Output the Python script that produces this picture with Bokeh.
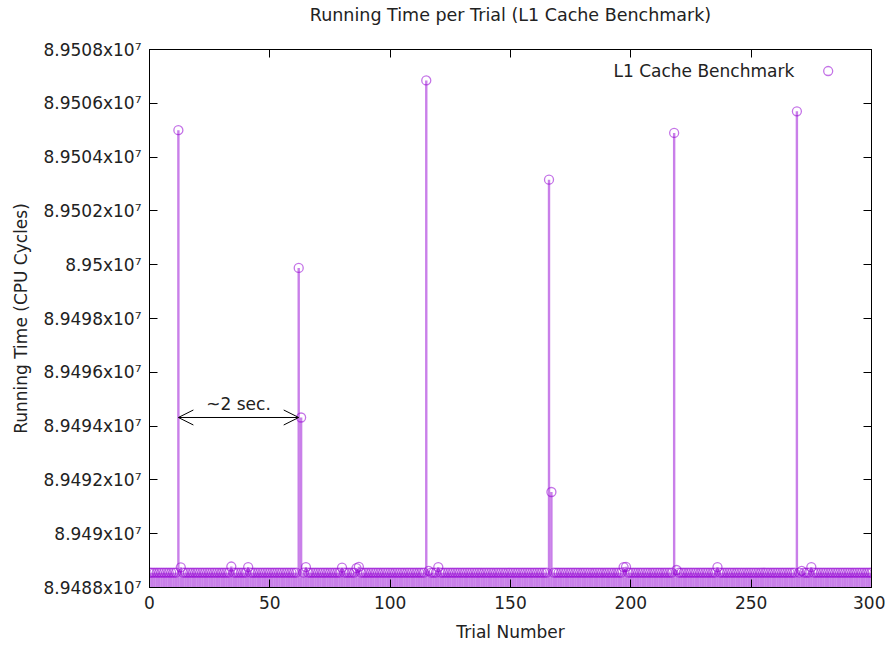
from bokeh.plotting import figure
from bokeh.models import (Range1d, FixedTicker, CustomJSTickFormatter, LinearAxis,
                          Arrow, OpenHead, Label, ColumnDataSource)
from bokeh.embed import file_html
from bokeh.resources import INLINE

trials = list(range(301))
running_time = [
    89488550, 89488550, 89488550, 89488550, 89488550, 89488550, 89488550, 89488550, 89488550, 89488550,
    89488550, 89488550, 89505000, 89488750, 89488550, 89488550, 89488550, 89488550, 89488550, 89488550,
    89488550, 89488550, 89488550, 89488550, 89488550, 89488550, 89488550, 89488550, 89488550, 89488550,
    89488550, 89488550, 89488550, 89488550, 89488780, 89488550, 89488550, 89488550, 89488550, 89488550,
    89488550, 89488760, 89488550, 89488550, 89488550, 89488550, 89488550, 89488550, 89488550, 89488550,
    89488550, 89488550, 89488550, 89488550, 89488550, 89488550, 89488550, 89488550, 89488550, 89488550,
    89488550, 89488550, 89499880, 89494320, 89488550, 89488760, 89488550, 89488550, 89488550, 89488550,
    89488550, 89488550, 89488550, 89488550, 89488550, 89488550, 89488550, 89488550, 89488550, 89488550,
    89488740, 89488550, 89488550, 89488550, 89488550, 89488550, 89488720, 89488770, 89488550, 89488550,
    89488550, 89488550, 89488550, 89488550, 89488550, 89488550, 89488550, 89488550, 89488550, 89488550,
    89488550, 89488550, 89488550, 89488550, 89488550, 89488550, 89488550, 89488550, 89488550, 89488550,
    89488550, 89488550, 89488550, 89488550, 89488550, 89506850, 89488620, 89488550, 89488550, 89488550,
    89488760, 89488550, 89488550, 89488550, 89488550, 89488550, 89488550, 89488550, 89488550, 89488550,
    89488550, 89488550, 89488550, 89488550, 89488550, 89488550, 89488550, 89488550, 89488550, 89488550,
    89488550, 89488550, 89488550, 89488550, 89488550, 89488550, 89488550, 89488550, 89488550, 89488550,
    89488550, 89488550, 89488550, 89488550, 89488550, 89488550, 89488550, 89488550, 89488550, 89488550,
    89488550, 89488550, 89488550, 89488550, 89488550, 89488550, 89503160, 89491550, 89488550, 89488550,
    89488550, 89488550, 89488550, 89488550, 89488550, 89488550, 89488550, 89488550, 89488550, 89488550,
    89488550, 89488550, 89488550, 89488550, 89488550, 89488550, 89488550, 89488550, 89488550, 89488550,
    89488550, 89488550, 89488550, 89488550, 89488550, 89488550, 89488550, 89488760, 89488770, 89488550,
    89488550, 89488550, 89488550, 89488550, 89488550, 89488550, 89488550, 89488550, 89488550, 89488550,
    89488550, 89488550, 89488550, 89488550, 89488550, 89488550, 89488550, 89488550, 89504900, 89488650,
    89488550, 89488550, 89488550, 89488550, 89488550, 89488550, 89488550, 89488550, 89488550, 89488550,
    89488550, 89488550, 89488550, 89488550, 89488550, 89488550, 89488760, 89488550, 89488550, 89488550,
    89488550, 89488550, 89488550, 89488550, 89488550, 89488550, 89488550, 89488550, 89488550, 89488550,
    89488550, 89488550, 89488550, 89488550, 89488550, 89488550, 89488550, 89488550, 89488550, 89488550,
    89488550, 89488550, 89488550, 89488550, 89488550, 89488550, 89488550, 89488550, 89488550, 89505700,
    89488550, 89488620, 89488550, 89488550, 89488550, 89488760, 89488550, 89488550, 89488550, 89488550,
    89488550, 89488550, 89488550, 89488550, 89488550, 89488550, 89488550, 89488550, 89488550, 89488550,
    89488550, 89488550, 89488550, 89488550, 89488550, 89488550, 89488550, 89488550, 89488550, 89488550,
    89488550,
]
x_ticks = [0, 50, 100, 150, 200, 250, 300]
y_ticks = [89488000, 89490000, 89492000, 89494000, 89496000, 89498000,
           89500000, 89502000, 89504000, 89506000, 89508000]
series_name = "L1 Cache Benchmark"
title_text = "Running Time per Trial (L1 Cache Benchmark)"
arrow_from, arrow_to, arrow_ref = 12, 62, 63
arrow_text = "~2 sec."

FONT = "DejaVu Sans"
FS = "17px"
TXT = "#222222"
COLOR = "#9400d3"

x_lo, x_hi = 0, 300
y_lo, y_hi = y_ticks[0], y_ticks[-1]

p = figure(width=885, height=644, x_range=Range1d(x_lo, x_hi), y_range=Range1d(y_lo, y_hi),
           output_backend="svg", toolbar_location=None,
           min_border_left=149, min_border_right=14, min_border_top=49, min_border_bottom=54)
p.grid.visible = False
p.outline_line_color = "black"
p.outline_line_alpha = 1.0
p.outline_line_width = 1
p.background_fill_color = "white"
p.border_fill_color = "white"

src = ColumnDataSource(dict(trial=trials, time=running_time, base=[y_lo] * len(trials)))
p.segment(x0="trial", y0="base", x1="trial", y1="time", source=src,
          line_color=COLOR, line_alpha=0.5, line_width=2.4)
p.scatter("trial", "time", source=src, marker="circle", size=9, fill_color=None,
          line_color=COLOR, line_alpha=0.55, line_width=1.3)

fmt = CustomJSTickFormatter(code="return parseFloat((tick/1e7).toFixed(4)).toString() + 'x10\u2077';")
blank = CustomJSTickFormatter(code="return '';")

def style_axis(ax, labels=True):
    ax.major_tick_in = 8
    ax.major_tick_out = 0
    ax.minor_tick_line_color = None
    ax.axis_line_color = "black"
    ax.major_tick_line_color = "black"
    ax.major_label_text_font = FONT
    ax.major_label_text_color = TXT
    ax.axis_label_text_font = FONT
    ax.axis_label_text_font_style = "normal"
    ax.axis_label_text_color = TXT
    ax.axis_label_text_font_size = FS
    ax.major_label_text_font_size = FS
    if not labels:
        ax.formatter = blank
        ax.major_label_text_color = None
        ax.major_label_standoff = 0

xa = p.xaxis[0]
xa.ticker = FixedTicker(ticks=x_ticks)
xa.axis_label = "Trial Number"
xa.major_label_standoff = 8
xa.axis_label_standoff = 10
style_axis(xa)

ya = p.yaxis[0]
ya.ticker = FixedTicker(ticks=y_ticks)
ya.formatter = fmt
ya.axis_label = "Running Time (CPU Cycles)"
ya.major_label_standoff = 8
ya.axis_label_standoff = 10
style_axis(ya)

ra = LinearAxis(ticker=FixedTicker(ticks=y_ticks))
style_axis(ra, labels=False)
p.add_layout(ra, "right")

# top border axis carries the chart title as its label (gnuplot-like placement)
ta = LinearAxis(ticker=FixedTicker(ticks=x_ticks))
style_axis(ta, labels=False)
ta.axis_label = title_text
ta.axis_label_text_font_size = "17.5px"
ta.axis_label_standoff = 25
p.add_layout(ta, "above")

# annotation arrow
arrow_y = running_time[arrow_ref]
p.add_layout(Arrow(start=OpenHead(size=15, line_color="black", line_width=1),
                   end=OpenHead(size=15, line_color="black", line_width=1),
                   x_start=arrow_from, y_start=arrow_y, x_end=arrow_to, y_end=arrow_y,
                   line_color="black", line_width=1))
p.add_layout(Label(x=(arrow_from + arrow_to) / 2, y=arrow_y, text=arrow_text, text_align="center",
                   text_baseline="bottom", y_offset=3, text_font=FONT, text_font_size=FS,
                   text_color=TXT))

# legend (text then key, gnuplot style)
leg_y = y_lo + 0.96 * (y_hi - y_lo)
p.add_layout(Label(x=x_lo + 0.893 * (x_hi - x_lo), y=leg_y, text=series_name, text_align="right",
                   text_baseline="middle", text_font=FONT, text_font_size=FS, text_color=TXT))
p.scatter(x=[x_lo + 0.94 * (x_hi - x_lo)], y=[leg_y], marker="circle", size=9, fill_color=None,
          line_color=COLOR, line_alpha=0.55, line_width=1.3)

open("out.html", "w").write(file_html(p, INLINE))
